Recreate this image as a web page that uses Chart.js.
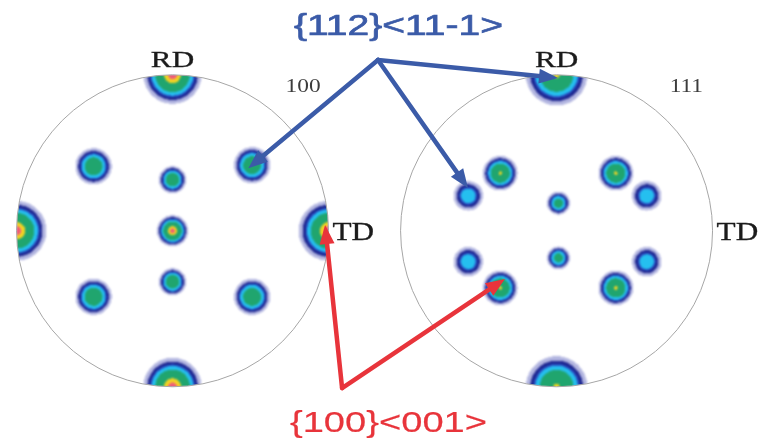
<!DOCTYPE html>
<html>
<head>
<meta charset="utf-8">
<script src="https://cdn.jsdelivr.net/npm/chart.js@4/dist/chart.umd.min.js"></script>
<style>
  html, body { margin: 0; padding: 0; background: #ffffff; }
  #c { display: block; }
</style>
</head>
<body>
<canvas id="c" width="762" height="448"></canvas>
<script>
// Two stereographic pole figures; 1 data unit = one pole-figure radius.
const figureNames = ['100', '111'];
const figureCenterX = [0, 2.462];
const axisNames = ['RD', 'TD'];

// {100} pole figure: pole positions (unit circle), peak intensity, spread
const pole100X = [0, 0, -1, 1, 0, 0, 0, -0.506, 0.510, -0.506, 0.510];
const pole100Y = [1, -1, 0, 0, 0, 0.327, -0.327, 0.413, 0.420, -0.423, -0.423];
const pole100Peak = [20, 20, 20, 20, 20, 12, 12, 12, 12, 12, 12];
const pole100Spread = [0.071, 0.071, 0.073, 0.073, 0.038, 0.036, 0.036, 0.048, 0.048, 0.048, 0.048];

// {111} pole figure
const pole111X = [0, 0, -0.361, 0.380, -0.361, 0.380, -0.566, 0.578, -0.566, 0.578, 0.012, 0.012];
const pole111Y = [1, -1, 0.369, 0.369, -0.366, -0.366, 0.224, 0.224, -0.198, -0.198, 0.177, -0.174];
const pole111Peak = [15.5, 15.5, 15.5, 15.5, 15.5, 15.5, 5.8, 5.8, 5.8, 5.8, 9, 9];
const pole111Spread = [0.078, 0.078, 0.044, 0.044, 0.044, 0.044, 0.045, 0.045, 0.045, 0.045, 0.032, 0.032];

// Contour levels (multiples of random) and their fill colours
const contourLevels = [0.65, 1.5, 2.6, 3.4, 5.9, 15, 18.5];
const contourColors = ['#b2b5e0', '#1d2690', '#2b4fc4', '#25bfef', '#20a56e', '#f2d322', '#ee5c7a'];

// Texture components and the poles they point at (data units)
const textureNames = ['{112}<11-1>', '{100}<001>'];
const textureColors = ['#3b5ba8', '#e8343b'];
const blueArrowFrom = [1.317, 1.095];
const blueArrowToX = [0.486, 2.471, 1.894];
const blueArrowToY = [0.401, 0.979, 0.274];
const redArrowFrom = [1.087, -1.008];
const redArrowToX = [0.978, 2.131];
const redArrowToY = [0.037, -0.309];

function poleData(cx, xs, ys, peaks, spreads) {
  return xs.map((x, i) => ({ x: cx + x, y: ys[i], peak: peaks[i], spread: spreads[i] }));
}

function hexRgb(h) {
  return [parseInt(h.slice(1, 3), 16), parseInt(h.slice(3, 5), 16), parseInt(h.slice(5, 7), 16)];
}

function stretchedText(ctx, text, x, y, font, color, align, sx, weight) {
  ctx.save();
  ctx.font = font;
  ctx.fillStyle = color;
  ctx.strokeStyle = color;
  ctx.textBaseline = 'alphabetic';
  const w = ctx.measureText(text).width * sx;
  let left = x;
  if (align === 'center') left = x - w / 2;
  else if (align === 'right') left = x - w;
  ctx.translate(left, y);
  ctx.scale(sx, 1);
  ctx.textAlign = 'left';
  ctx.fillText(text, 0, 0);
  if (weight) {
    ctx.lineWidth = weight;
    ctx.strokeText(text, 0, 0);
  }
  ctx.restore();
}

function arrow(ctx, x0, y0, x1, y1, color, width, headLen, headHalf) {
  const dx = x1 - x0, dy = y1 - y0;
  const len = Math.hypot(dx, dy);
  const ux = dx / len, uy = dy / len;
  const bx = x1 - ux * headLen, by = y1 - uy * headLen;
  ctx.save();
  ctx.strokeStyle = color;
  ctx.fillStyle = color;
  ctx.lineWidth = width;
  ctx.lineCap = 'round';
  ctx.beginPath();
  ctx.moveTo(x0, y0);
  ctx.lineTo(bx + ux * 2, by + uy * 2);
  ctx.stroke();
  ctx.beginPath();
  ctx.moveTo(x1, y1);
  ctx.lineTo(bx - uy * headHalf, by + ux * headHalf);
  ctx.lineTo(bx + uy * headHalf, by - ux * headHalf);
  ctx.closePath();
  ctx.fill();
  ctx.restore();
}

const poleFigurePlugin = {
  id: 'poleFigure',
  afterDatasetsDraw(chart) {
    const ctx = chart.ctx;
    const xs = chart.scales.x, ys = chart.scales.y;
    const unit = xs.getPixelForValue(1) - xs.getPixelForValue(0);
    const rgb = contourColors.map(hexRgb);

    chart.data.datasets.forEach((ds, fi) => {
      const cx = xs.getPixelForValue(figureCenterX[fi]);
      const cy = ys.getPixelForValue(0);
      const R = unit;
      const poles = ds.data.map(p => ({
        px: xs.getPixelForValue(p.x),
        py: ys.getPixelForValue(p.y),
        peak: p.peak,
        s2: 2 * Math.pow(p.spread * unit, 2)
      }));
      const x0 = Math.floor(cx - R) - 2, y0 = Math.floor(cy - R) - 2;
      const w = Math.ceil(2 * R) + 5, h = Math.ceil(2 * R) + 5;
      const off = document.createElement('canvas');
      off.width = w; off.height = h;
      const octx = off.getContext('2d');
      const img = octx.createImageData(w, h);
      for (let j = 0; j < h; j++) {
        const py = y0 + j + 0.5;
        for (let i = 0; i < w; i++) {
          const px = x0 + i + 0.5;
          if (Math.hypot(px - cx, py - cy) > R + 1) continue;
          let v = 0;
          for (const p of poles) {
            const d2 = (px - p.px) ** 2 + (py - p.py) ** 2;
            v += p.peak * Math.exp(-d2 / p.s2);
          }
          let lvl = -1;
          for (let k = 0; k < contourLevels.length; k++) if (v >= contourLevels[k]) lvl = k;
          if (lvl < 0) continue;
          const o = (j * w + i) * 4;
          img.data[o] = rgb[lvl][0];
          img.data[o + 1] = rgb[lvl][1];
          img.data[o + 2] = rgb[lvl][2];
          img.data[o + 3] = 255;
        }
      }
      octx.putImageData(img, 0, 0);
      ctx.save();
      ctx.beginPath();
      ctx.arc(cx, cy, R, 0, Math.PI * 2);
      ctx.clip();
      ctx.filter = 'blur(0.9px)';
      ctx.drawImage(off, x0, y0);
      ctx.restore();

      // circle outline
      ctx.save();
      ctx.strokeStyle = '#a6a6a6';
      ctx.lineWidth = 1;
      ctx.beginPath();
      ctx.arc(cx, cy, R, 0, Math.PI * 2);
      ctx.stroke();
      ctx.restore();

      // sample directions and pole figure name
      const serif = '"Liberation Serif", "Times New Roman", serif';
      stretchedText(ctx, axisNames[0], cx, cy - R - 8, '24px ' + serif, '#1b1b1b', 'center', 1.3, 0.3);
      stretchedText(ctx, axisNames[1], cx + R + 4, cy + 9, '25px ' + serif, '#1b1b1b', 'left', 1.25, 0.3);
      stretchedText(ctx, figureNames[fi], cx + R * 0.725, cy - R * 0.89, '18px ' + serif, '#3c3c3c', 'left', 1.3);
    });

    // texture annotations
    const sans = '"Liberation Sans", Arial, sans-serif';
    const bx = xs.getPixelForValue(blueArrowFrom[0]), by = ys.getPixelForValue(blueArrowFrom[1]);
    blueArrowToX.forEach((tx, i) => {
      arrow(ctx, bx, by, xs.getPixelForValue(tx), ys.getPixelForValue(blueArrowToY[i]), textureColors[0], 4.5, 19, 7.5);
    });
    const rx = xs.getPixelForValue(redArrowFrom[0]), ry = ys.getPixelForValue(redArrowFrom[1]);
    redArrowToX.forEach((tx, i) => {
      arrow(ctx, rx, ry, xs.getPixelForValue(tx), ys.getPixelForValue(redArrowToY[i]), textureColors[1], 4.5, 19, 7.5);
    });
    stretchedText(ctx, textureNames[0], 398.5, 35, '30px ' + sans, textureColors[0], 'center', 1.3, 0.7);
    stretchedText(ctx, textureNames[1], 388.5, 432, '30px ' + sans, textureColors[1], 'center', 1.27, 0.2);
  }
};

new Chart(document.getElementById('c'), {
  type: 'scatter',
  data: {
    datasets: [
      { label: figureNames[0], data: poleData(figureCenterX[0], pole100X, pole100Y, pole100Peak, pole100Spread), pointRadius: 0 },
      { label: figureNames[1], data: poleData(figureCenterX[1], pole111X, pole111Y, pole111Peak, pole111Spread), pointRadius: 0 }
    ]
  },
  options: {
    responsive: false,
    animation: false,
    events: [],
    layout: { padding: 0 },
    plugins: { legend: { display: false }, tooltip: { enabled: false }, title: { display: false } },
    scales: {
      x: { type: 'linear', display: false, min: -1.106, max: 3.779 },
      y: { type: 'linear', display: false, min: -1.392, max: 1.479 }
    }
  },
  plugins: [poleFigurePlugin]
});
</script>
</body>
</html>
